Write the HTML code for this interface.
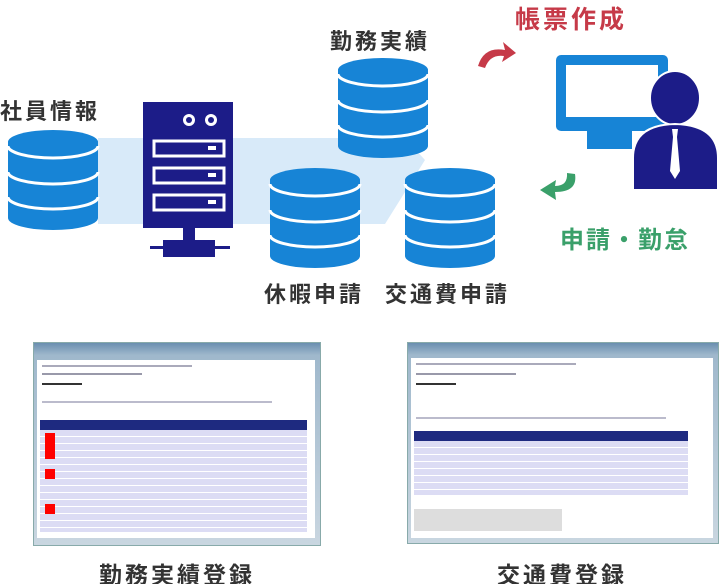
<!DOCTYPE html>
<html><head><meta charset="utf-8"><style>
html,body{margin:0;padding:0;background:#fff;width:720px;height:584px;overflow:hidden;position:relative;font-family:"Liberation Sans","Noto Sans CJK JP",sans-serif}
.t{position:absolute;font-weight:bold;white-space:nowrap;letter-spacing:3px}
.win{position:absolute;background:linear-gradient(#6a8fb0,#9fb8cc 6%,#c9d6e0);border:1px solid #8aa;}
.in{position:absolute;background:#fff}
.tb{position:absolute;background:repeating-linear-gradient(#dcdcf4 0,#dcdcf4 6px,#fff 6px,#fff 7px)}
.hd{position:absolute;background:#1e2a80}
.ln{position:absolute;height:2px;background:#99a}
</style></head><body>
<svg width="720" height="310" style="position:absolute;left:0;top:0">
<defs>
<g id="cyl">
<path d="M0,12 v76 a45,12 0 0 0 90,0 v-76 a45,12 0 0 0 -90,0z" fill="#1784d6"/>
<path d="M0,16 a45,12 0 0 0 90,0 M0,42 a45,12 0 0 0 90,0 M0,67 a45,12 0 0 0 90,0" fill="none" stroke="#fff" stroke-width="3"/>
</g>
</defs>
<polygon points="98,138 405,138 425,160 385,224 98,224" fill="#d8eaf9"/>
<use href="#cyl" x="8" y="130"/>
<use href="#cyl" x="338" y="58"/>
<use href="#cyl" x="270" y="168"/>
<use href="#cyl" x="405" y="168"/>
<rect x="143" y="102" width="90" height="126" fill="#1c1c88"/>
<circle cx="189" cy="120" r="6" fill="#fff"/><circle cx="211" cy="120" r="6" fill="#fff"/>
<circle cx="189" cy="120" r="3" fill="#1c1c88"/><circle cx="211" cy="120" r="3" fill="#1c1c88"/>
<rect x="154" y="141" width="70" height="15" fill="none" stroke="#fff" stroke-width="3"/>
<rect x="154" y="168" width="70" height="15" fill="none" stroke="#fff" stroke-width="3"/>
<rect x="154" y="195" width="70" height="15" fill="none" stroke="#fff" stroke-width="3"/>
<rect x="208" y="146" width="8" height="4" fill="#fff"/><rect x="208" y="173" width="8" height="4" fill="#fff"/><rect x="208" y="200" width="8" height="4" fill="#fff"/>
<rect x="183" y="228" width="12" height="14" fill="#1c1c88"/>
<rect x="150" y="246" width="80" height="3" fill="#1c1c88"/>
<rect x="163" y="240" width="52" height="17" fill="#1c1c88"/>
<path d="M478,66 Q484,46 505,50 L503,42 L516,53 L502,62 L504,56 Q490,54 485,68Z" fill="#c63a48"/>
<path d="M575,174 Q578,192 555,192 L556,200 L540,190 L556,180 L555,186 Q568,186 567,173Z" fill="#3aa06a"/>
<rect x="556" y="55" width="112" height="76" rx="5" fill="#1784d6"/>
<rect x="566" y="65" width="92" height="52" fill="#fff"/>
<rect x="587" y="131" width="45" height="18" fill="#1784d6"/>
<ellipse cx="675" cy="98" rx="25" ry="27" fill="#1c1c88" stroke="#fff" stroke-width="2"/>
<path d="M633,190 V158 Q633,125 675,124 Q718,125 718,158 V190Z" fill="#1c1c88" stroke="#fff" stroke-width="2"/>
<path d="M672,129 h6 l-1,8 l3,34 l-5,8 l-5,-8 l3,-34z" fill="#fff"/>
</svg>
<div class="t" style="left:0;top:94px;font-size:22px;color:#333">社員情報</div>
<div class="t" style="left:330px;top:24px;font-size:22px;color:#333">勤務実績</div>
<div class="t" style="left:264px;top:277px;font-size:22px;color:#333">休暇申請</div>
<div class="t" style="left:385px;top:277px;font-size:22px;color:#333">交通費申請</div>
<div class="t" style="left:515px;top:0;font-size:25px;color:#c63a48">帳票作成</div>
<div class="t" style="left:560px;top:220px;font-size:24px;color:#3aa06a;letter-spacing:2px">申請・勤怠</div>

<div class="win" style="left:33px;top:342px;width:286px;height:202px">
<div class="in" style="left:3px;top:17px;width:278px;height:178px"></div>
<div class="ln" style="left:8px;top:22px;width:150px;background:#aab"></div>
<div class="ln" style="left:8px;top:30px;width:100px"></div>
<div class="ln" style="left:8px;top:40px;width:40px;background:#333"></div>
<div class="ln" style="left:8px;top:58px;width:230px;background:#bbc"></div>
<div class="hd" style="left:6px;top:77px;width:267px;height:10px"></div>
<div class="tb" style="left:6px;top:87px;width:267px;height:102px"></div>
<div style="position:absolute;left:11px;top:90px;width:10px;height:26px;background:#f00"></div>
<div style="position:absolute;left:11px;top:126px;width:10px;height:10px;background:#f00"></div>
<div style="position:absolute;left:11px;top:161px;width:10px;height:10px;background:#f00"></div>
</div>
<div class="win" style="left:407px;top:342px;width:310px;height:200px">
<div class="in" style="left:3px;top:15px;width:302px;height:180px"></div>
<div class="ln" style="left:8px;top:20px;width:160px;background:#aab"></div>
<div class="ln" style="left:8px;top:30px;width:100px"></div>
<div class="ln" style="left:8px;top:40px;width:40px;background:#333"></div>
<div class="ln" style="left:8px;top:74px;width:250px;background:#bbc"></div>
<div class="hd" style="left:6px;top:88px;width:274px;height:10px"></div>
<div class="tb" style="left:6px;top:98px;width:274px;height:54px"></div>
<div style="position:absolute;left:6px;top:166px;width:148px;height:22px;background:#ddd"></div>
</div>
<div class="t" style="left:99px;top:556px;font-size:23px;color:#333">勤務実績登録</div>
<div class="t" style="left:497px;top:556px;font-size:23px;color:#333">交通費登録</div>
</body></html>
